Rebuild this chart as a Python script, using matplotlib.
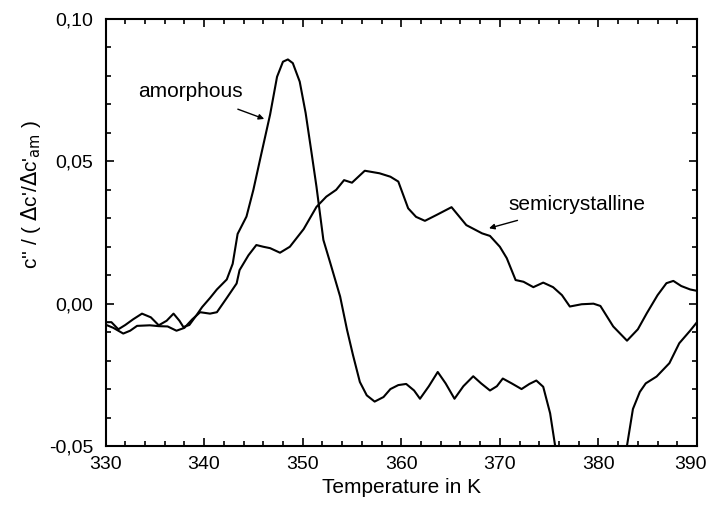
import numpy as np
import matplotlib
matplotlib.use("Agg")
import matplotlib.pyplot as plt
from matplotlib.ticker import MultipleLocator, FuncFormatter
from matplotlib.transforms import ScaledTranslation

plt.rcParams['font.family'] = ['Liberation Sans', 'DejaVu Sans']

# amorphous sample (drops out of the frame between ~376 K and ~383 K)
amorph_T = [330.1, 330.6, 331.3, 332.0, 332.8, 333.7, 334.6, 335.4, 336.2, 336.9,
            337.5, 337.9, 338.5, 339.2, 339.8, 340.6, 341.3, 342.3, 342.9, 343.4,
            344.3, 345.0, 345.7, 346.7, 347.4, 348.0, 348.5, 349.0, 349.7, 350.3,
            350.9, 351.4, 352.1, 352.8, 353.8, 354.5, 355.1, 355.8, 356.5, 357.3,
            358.2, 358.9, 359.7, 360.5, 361.3, 361.9, 362.8, 363.7, 364.5, 365.4,
            366.3, 367.3, 368.1, 369.0, 369.7, 370.3, 371.2, 372.2, 373.0, 373.7,
            374.4, 375.1, 375.7, np.nan, 382.8, 383.5, 384.2, 384.8, 385.9, 387.2,
            388.2, 389.3, 390.0]
amorph_c = [-0.0065, -0.0065, -0.0090, -0.0075, -0.0055, -0.0035, -0.0048, -0.0076, -0.0060, -0.0035,
            -0.0060, -0.0082, -0.0075, -0.0042, -0.0012, 0.0020, 0.0050, 0.0085, 0.0140, 0.0245,
            0.0306, 0.0400, 0.0510, 0.0665, 0.0797, 0.0850, 0.0858, 0.0845, 0.0780, 0.0670,
            0.0530, 0.0411, 0.0224, 0.0143, 0.0025, -0.0092, -0.0180, -0.0275, -0.0322, -0.0344,
            -0.0328, -0.0300, -0.0286, -0.0282, -0.0305, -0.0334, -0.0290, -0.0240, -0.0280, -0.0334,
            -0.0290, -0.0255, -0.0280, -0.0305, -0.0290, -0.0263, -0.0280, -0.0300, -0.0282, -0.0270,
            -0.0292, -0.0385, -0.0520, np.nan, -0.0520, -0.0370, -0.0310, -0.0280, -0.0256, -0.0209,
            -0.0139, -0.0095, -0.0065]

# semicrystalline sample
semi_T = [330.1, 330.8, 331.8, 332.5, 333.2, 334.5, 335.4, 336.3, 337.2, 338.0,
          338.8, 339.6, 340.6, 341.3, 342.3, 343.3, 343.6, 344.5, 345.3, 346.0,
          346.7, 347.7, 348.7, 350.1, 351.4, 352.4, 353.4, 354.2, 355.0, 356.3,
          357.8, 358.9, 359.7, 360.7, 361.5, 362.4, 363.6, 365.1, 366.6, 368.2,
          369.0, 370.0, 370.7, 371.6, 372.4, 373.4, 374.4, 375.4, 376.3, 377.1,
          378.3, 379.5, 380.2, 381.5, 382.9, 384.0, 384.9, 386.0, 386.9, 387.6,
          388.4, 389.3, 390.0]
semi_c = [-0.0075, -0.0085, -0.0105, -0.0095, -0.0078, -0.0076, -0.0079, -0.0080, -0.0095, -0.0085,
          -0.0055, -0.0030, -0.0035, -0.0030, 0.0020, 0.0071, 0.0118, 0.0170, 0.0206, 0.0200,
          0.0195, 0.0179, 0.0200, 0.0262, 0.0340, 0.0376, 0.0400, 0.0434, 0.0425, 0.0467,
          0.0458, 0.0446, 0.0429, 0.0335, 0.0305, 0.0291, 0.0312, 0.0339, 0.0276, 0.0247,
          0.0238, 0.0200, 0.0160, 0.0083, 0.0077, 0.0058, 0.0074, 0.0058, 0.0030, -0.0010,
          -0.0002, 0.0000, -0.0008, -0.0080, -0.0130, -0.0090, -0.0034, 0.0030, 0.0072, 0.0080,
          0.0062, 0.0050, 0.0045]

x_ticks = [330, 340, 350, 360, 370, 380, 390]
y_ticks = [-0.05, 0.00, 0.05, 0.10]

fig = plt.figure(figsize=(7.10, 5.14), dpi=100)
ax = fig.add_axes([0.1486, 0.1323, 0.8331, 0.8307])

ax.plot(amorph_T, amorph_c, color='black', lw=1.5, solid_joinstyle='round')
ax.plot(semi_T, semi_c, color='black', lw=1.5, solid_joinstyle='round')

ax.set_xlim(330, 390)
ax.set_ylim(-0.05, 0.10)
ax.set_xticks(x_ticks)
ax.set_yticks(y_ticks)
ax.xaxis.set_minor_locator(MultipleLocator(2))
ax.yaxis.set_minor_locator(MultipleLocator(0.01))
ax.yaxis.set_major_formatter(FuncFormatter(lambda v, p: f"{v:.2f}".replace('.', ',')))
ax.tick_params(which='both', direction='in', top=True, right=True, labelsize=14, width=1.2)
ax.tick_params(which='major', length=6)
ax.tick_params(axis='y', pad=9)
ax.tick_params(axis='x', pad=7)
ax.tick_params(which='minor', length=3.5)
for s in ax.spines.values():
    s.set_linewidth(1.5)

ax.set_xlabel("Temperature in K", fontsize=15, labelpad=4)
ax.set_ylabel(r"c'' / ( $\Delta$c'/$\Delta$c'$_{\rm am}$ )", fontsize=15)
ax.yaxis.set_label_coords(-0.105, 0.59)

# keep the "390" tick label inside the figure edge
last = ax.xaxis.get_major_ticks()[-1].label1
last.set_transform(last.get_transform() + ScaledTranslation(-5 / 72, 0, fig.dpi_scale_trans))

ax.annotate("amorphous", xy=(346.1, 0.0649), xytext=(338.6, 0.0745),
            ha='center', va='center', fontsize=15,
            arrowprops=dict(arrowstyle='-|>', color='black', lw=1, shrinkA=11, shrinkB=0,
                            mutation_scale=8))
ax.annotate("semicrystalline", xy=(368.9, 0.0265), xytext=(377.8, 0.0350),
            ha='center', va='center', fontsize=15,
            arrowprops=dict(arrowstyle='-|>', color='black', lw=1, shrinkA=11, shrinkB=0,
                            mutation_scale=8))

fig.savefig("out.png", dpi=100)
